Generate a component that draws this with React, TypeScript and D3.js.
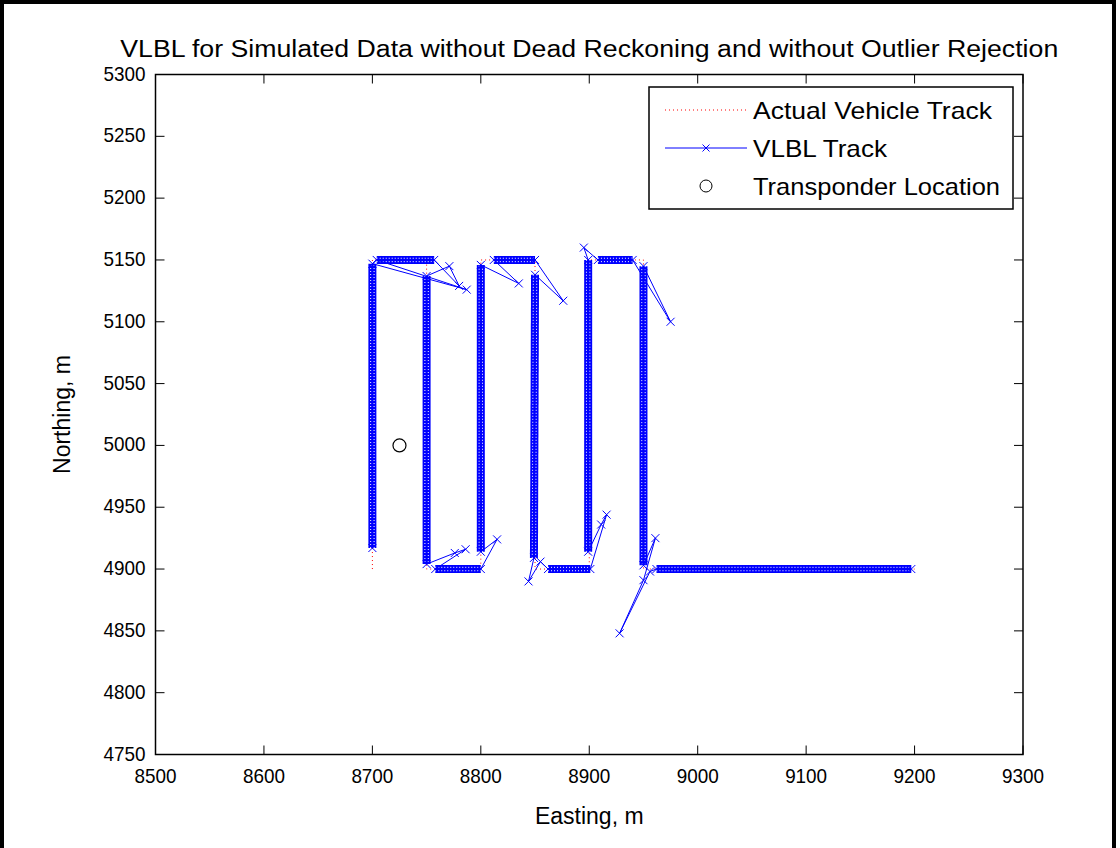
import React from "react";
import * as d3 from "d3";

// ---------- data ----------
const xTicks = [8500, 8600, 8700, 8800, 8900, 9000, 9100, 9200, 9300];
const yTicks = [4750, 4800, 4850, 4900, 4950, 5000, 5050, 5100, 5150, 5200, 5250, 5300];

// actual (true) vehicle track waypoints [easting, northing]
const actualTrack: [number, number][] = [
  [8700, 4900], [8700, 5150], [8750, 5150], [8750, 4900], [8800, 4900],
  [8800, 5150], [8850, 5150], [8850, 4900], [8900, 4900], [8900, 5150],
  [8950, 5150], [8950, 4900], [9200, 4900],
];

// VLBL fixes: [easting, northing, dense] — dense=1 when the fixes run densely to the next vertex
const vlblTrack: [number, number, number][] = [
  [8700, 4917, 1], [8700, 5147, 0], [8787, 5126, 0], [8704, 5150, 1], [8757, 5150, 0],
  [8780, 5129, 0], [8771, 5145, 0], [8750, 5137, 1], [8750, 4904, 0], [8776, 4913, 0],
  [8786, 4916, 0], [8758, 4900, 1], [8800, 4900, 0], [8815, 4924, 0], [8800, 4914, 1],
  [8800, 5146, 0], [8835, 5131, 0], [8812, 5150, 1], [8850, 5150, 0], [8876, 5117, 0],
  [8850, 5138, 1], [8849, 4909, 0], [8844, 4890, 0],
  [8855, 4906, 0], [8862, 4900, 1], [8901, 4900, 0], [8916, 4944, 0], [8911, 4936, 0],
  [8899, 4914, 1], [8899, 5150, 0], [8895, 5160, 0], [8908, 5150, 1], [8940, 5150, 0],
  [8975, 5100, 0], [8950, 5145, 1], [8950, 4903, 0], [8961, 4925, 0], [8950, 4891, 0],
  [8928, 4848, 0], [8956, 4898, 0], [8962, 4900, 1], [9197, 4900, 0],
];

const transponder: [number, number] = [8725, 5000];

const legendLabels = ["Actual Vehicle Track", "VLBL Track", "Transponder Location"];
const titleText = "VLBL for Simulated Data without Dead Reckoning and without Outlier Rejection";

// ---------- layout ----------
const W = 1120, H = 848;
const left = 155.5, right = 1023, top = 74.5, bottom = 754.5;
const FONT = "'Liberation Sans', Arial, Helvetica, sans-serif";
const BLUE = "#0000ff";

const x = d3.scaleLinear().domain([8500, 9300]).range([left, right]);
const y = d3.scaleLinear().domain([4750, 5300]).range([bottom, top]);

function XMark({ cx, cy, s = 4 }: { cx: number; cy: number; s?: number }) {
  return (
    <path
      d={`M${cx - s},${cy - s}L${cx + s},${cy + s}M${cx - s},${cy + s}L${cx + s},${cy - s}`}
      stroke={BLUE}
      strokeWidth={1}
      fill="none"
    />
  );
}

export default function App() {
  const line = d3.line<[number, number]>().x((d) => x(d[0])).y((d) => y(d[1]));
  const vlblLine = d3
    .line<[number, number, number]>()
    .x((d) => x(d[0]))
    .y((d) => y(d[1]));

  const denseSegs: { x1: number; y1: number; x2: number; y2: number }[] = [];
  for (let i = 0; i < vlblTrack.length - 1; i++) {
    if (vlblTrack[i][2]) {
      denseSegs.push({
        x1: x(vlblTrack[i][0]),
        y1: y(vlblTrack[i][1]),
        x2: x(vlblTrack[i + 1][0]),
        y2: y(vlblTrack[i + 1][1]),
      });
    }
  }

  const tickLen = 9;
  const legX = 649, legY = 87, legW = 364, legH = 122;
  const rowY = [110, 148, 186];
  const legendWidths = [239, 134, 247];

  return (
    <svg
      width={W}
      height={H}
      style={{ position: "absolute", left: 0, top: 0, background: "#fff" }}
      fontFamily={FONT}
    >
      <rect x={0} y={0} width={W} height={H} fill="#fff" />
      {/* figure frame */}
      <rect x={2} y={2} width={1112} height={900} fill="none" stroke="#000" strokeWidth={4} />

      {/* title */}
      <text
        x={(left + right) / 2}
        y={57}
        textAnchor="middle"
        fontSize={23}
        fill="#000"
        textLength={938}
        lengthAdjust="spacingAndGlyphs"
      >
        {titleText}
      </text>

      {/* data */}
      <g>
        <path d={line(actualTrack) || ""} fill="none" stroke="#ff0000" strokeWidth={1} strokeDasharray="1 3" />
        {denseSegs.map((s, i) => {
          const dx = s.x2 - s.x1, dy = s.y2 - s.y1;
          const len = Math.hypot(dx, dy) || 1;
          const nx = -dy / len, ny = dx / len;
          return (
            <g key={i}>
              <line x1={s.x1} y1={s.y1} x2={s.x2} y2={s.y2} stroke={BLUE} strokeWidth={8} />
              {[-1.7, 1.7].map((o, j) => (
                <line
                  key={j}
                  x1={s.x1 + nx * o}
                  y1={s.y1 + ny * o}
                  x2={s.x2 + nx * o}
                  y2={s.y2 + ny * o}
                  stroke="#fff"
                  strokeWidth={1}
                  strokeDasharray="1 2"
                />
              ))}
            </g>
          );
        })}
        <path d={vlblLine(vlblTrack) || ""} fill="none" stroke={BLUE} strokeWidth={1} />
        {vlblTrack.map((d, i) => (
          <XMark key={i} cx={x(d[0])} cy={y(d[1])} />
        ))}
        <circle cx={x(transponder[0])} cy={y(transponder[1])} r={6.5} fill="none" stroke="#000" strokeWidth={1.2} />
      </g>

      {/* axes box */}
      <rect x={left} y={top} width={right - left} height={bottom - top} fill="none" stroke="#000" strokeWidth={1.5} />
      {xTicks.map((t) => (
        <g key={"x" + t}>
          <line x1={x(t)} x2={x(t)} y1={bottom} y2={bottom - tickLen} stroke="#000" />
          <line x1={x(t)} x2={x(t)} y1={top} y2={top + tickLen} stroke="#000" />
          <text
            x={x(t)}
            y={bottom + 28}
            textAnchor="middle"
            fontSize={21}
            fill="#000"
            textLength={42}
            lengthAdjust="spacingAndGlyphs"
          >
            {t}
          </text>
        </g>
      ))}
      {yTicks.map((t) => (
        <g key={"y" + t}>
          <line x1={left} x2={left + tickLen} y1={y(t)} y2={y(t)} stroke="#000" />
          <line x1={right} x2={right - tickLen} y1={y(t)} y2={y(t)} stroke="#000" />
          <text
            x={left - 10}
            y={y(t) + 6}
            textAnchor="end"
            fontSize={21}
            fill="#000"
            textLength={42}
            lengthAdjust="spacingAndGlyphs"
          >
            {t}
          </text>
        </g>
      ))}

      {/* axis labels */}
      <text x={(left + right) / 2} y={824} textAnchor="middle" fontSize={23} fill="#000">
        Easting, m
      </text>
      <text
        transform={`translate(70,${(top + bottom) / 2}) rotate(-90)`}
        textAnchor="middle"
        fontSize={23}
        fill="#000"
      >
        Northing, m
      </text>

      {/* legend */}
      <g>
        <rect x={legX} y={legY} width={legW} height={legH} fill="#fff" stroke="#000" strokeWidth={1.5} />
        <line x1={665} x2={747} y1={rowY[0]} y2={rowY[0]} stroke="#ff0000" strokeDasharray="1 3" />
        <line x1={665} x2={747} y1={rowY[1]} y2={rowY[1]} stroke={BLUE} />
        <XMark cx={706} cy={rowY[1]} s={3.5} />
        <circle cx={706} cy={rowY[2]} r={6} fill="none" stroke="#000" />
        {legendLabels.map((l, i) => (
          <text
            key={l}
            x={753}
            y={rowY[i] + 9}
            fontSize={24}
            fill="#000"
            textLength={legendWidths[i]}
            lengthAdjust="spacingAndGlyphs"
          >
            {l}
          </text>
        ))}
      </g>
    </svg>
  );
}
